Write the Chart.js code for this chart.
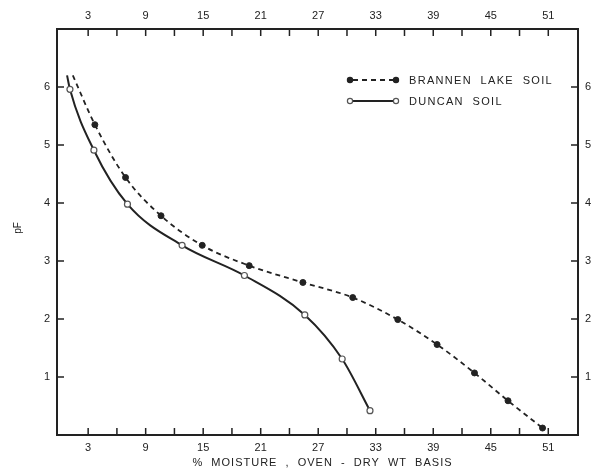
<!DOCTYPE html>
<html>
<head>
<meta charset="utf-8">
<script src="https://cdn.jsdelivr.net/npm/chart.js@4.4.1/dist/chart.umd.min.js"></script>
<style>
  html, body { margin: 0; padding: 0; background: #fff; }
</style>
</head>
<body>
<canvas id="soilChart" width="592" height="468"></canvas>
<script>
// % moisture (oven-dry wt basis) vs pF
// first entry of each series is where the drawn curve starts (no marker)
const brannenMoisture = [1.4, 3.7, 6.9, 10.6, 14.9, 19.8, 25.4, 30.6, 35.3, 39.4, 43.3, 46.8, 50.4];
const brannenPF = [6.2, 5.35, 4.44, 3.78, 3.27, 2.92, 2.63, 2.37, 1.99, 1.56, 1.07, 0.59, 0.12];

const duncanMoisture = [0.8, 1.1, 3.6, 7.1, 12.8, 19.3, 25.6, 29.5, 32.4];
const duncanPF = [6.2, 5.96, 4.91, 3.98, 3.27, 2.75, 2.07, 1.31, 0.42];

const xTicks = [3, 6, 9, 12, 15, 18, 21, 24, 27, 30, 33, 36, 39, 42, 45, 48, 51];
const xLabels = [3, 9, 15, 21, 27, 33, 39, 45, 51];
const yTicks = [1, 2, 3, 4, 5, 6];

const seriesNames = ["BRANNEN LAKE SOIL", "DUNCAN SOIL"];
const xTitle = "% MOISTURE , OVEN - DRY WT BASIS";
const yTitle = "pF";

const ink = "#222";
const font = { family: "'Liberation Sans', Arial, sans-serif", size: 11 };

function toPoints(xs, ys) {
    return xs.map((x, i) => ({ x: x, y: ys[i] }));
}

function noFirst(r) {
    return (ctx) => (ctx.dataIndex === 0 ? 0 : r);
}

function setTicks(values) {
    return (scale) => {
        scale.ticks = values.map((v) => ({ value: v }));
    };
}

const xLabel = (v) => (xLabels.includes(v) ? String(v) : "");

function xScale(position, size) {
    return {
        type: "linear",
        position: position,
        min: -0.25,
        max: 54.1,
        grid: { display: false, drawTicks: false },
        border: { display: true, color: ink, width: 2 },
        ticks: { font: font, color: ink, padding: 6, autoSkip: false, maxRotation: 0, callback: xLabel },
        afterBuildTicks: setTicks(xTicks),
        afterFit: (s) => { s.height = size; },
    };
}

function yScale(position, size) {
    return {
        type: "linear",
        position: position,
        min: 0,
        max: 7,
        grid: { display: false, drawTicks: false },
        border: { display: true, color: ink, width: 2 },
        ticks: { font: font, color: ink, padding: 7, autoSkip: false },
        afterBuildTicks: setTicks(yTicks),
        afterFit: (s) => { s.width = size; },
    };
}

// tick marks pointing into the plot, plus legend and axis titles
const decorations = {
    id: "decorations",
    afterDraw(chart) {
        const ctx = chart.ctx;
        const area = chart.chartArea;
        const len = 7;
        ctx.save();
        ctx.strokeStyle = ink;
        ctx.lineWidth = 1.5;
        ctx.beginPath();
        xTicks.forEach((v) => {
            const px = chart.scales.x.getPixelForValue(v);
            ctx.moveTo(px, area.bottom);
            ctx.lineTo(px, area.bottom - len);
            ctx.moveTo(px, area.top);
            ctx.lineTo(px, area.top + len);
        });
        yTicks.forEach((v) => {
            const py = chart.scales.y.getPixelForValue(v);
            ctx.moveTo(area.left, py);
            ctx.lineTo(area.left + len, py);
            ctx.moveTo(area.right, py);
            ctx.lineTo(area.right - len, py);
        });
        ctx.stroke();

        // legend
        const lx0 = area.left + 293;
        const lx1 = area.left + 339;
        const rows = [area.top + 51, area.top + 72];
        chart.data.datasets.forEach((ds, i) => {
            const y = rows[i];
            ctx.strokeStyle = ds.borderColor;
            ctx.lineWidth = ds.borderWidth;
            ctx.setLineDash(ds.borderDash || []);
            ctx.beginPath();
            ctx.moveTo(lx0 + 3, y);
            ctx.lineTo(lx1 - 3, y);
            ctx.stroke();
            ctx.setLineDash([]);
            [lx0, lx1].forEach((mx) => {
                ctx.beginPath();
                ctx.arc(mx, y, 2.6, 0, Math.PI * 2);
                ctx.fillStyle = ds.pointBackgroundColor;
                ctx.fill();
                ctx.lineWidth = 1.2;
                ctx.strokeStyle = ds.pointBorderColor;
                ctx.stroke();
            });
            ctx.fillStyle = ink;
            ctx.font = "11px 'Liberation Sans', Arial, sans-serif";
            ctx.letterSpacing = "1.3px";
            ctx.textBaseline = "middle";
            ctx.textAlign = "left";
            ctx.fillText(seriesNames[i].replace(/ /g, "  "), lx1 + 13, y + 1);
        });

        // axis titles
        ctx.font = "11px 'Liberation Sans', Arial, sans-serif";
        ctx.letterSpacing = "1px";
        ctx.textAlign = "center";
        ctx.textBaseline = "middle";
        ctx.fillText(xTitle.replace(/ /g, "  "), (area.left + area.right) / 2 + 5, 463);

        ctx.letterSpacing = "0px";
        ctx.font = "10px 'Liberation Sans', Arial, sans-serif";
        ctx.translate(18, 228);
        ctx.rotate(-Math.PI / 2);
        ctx.fillText(yTitle, 0, 0);
        ctx.restore();
    },
};

const soil = document.getElementById("soilChart").getContext("2d");
new Chart(soil, {
    type: "line",
    data: {
        datasets: [
            {
                label: seriesNames[0],
                data: toPoints(brannenMoisture, brannenPF),
                borderColor: ink,
                borderWidth: 1.8,
                borderDash: [5, 4],
                pointRadius: noFirst(3),
                pointBackgroundColor: ink,
                pointBorderColor: ink,
                pointBorderWidth: 1,
                cubicInterpolationMode: "monotone",
            },
            {
                label: seriesNames[1],
                data: toPoints(duncanMoisture, duncanPF),
                borderColor: ink,
                borderWidth: 2,
                pointRadius: noFirst(3),
                pointBackgroundColor: "#fff",
                pointBorderColor: "#555",
                pointBorderWidth: 1.2,
                cubicInterpolationMode: "monotone",
            },
        ],
    },
    options: {
        responsive: false,
        animation: false,
        devicePixelRatio: 1,
        layout: { padding: 0 },
        plugins: {
            legend: { display: false },
            tooltip: { enabled: false },
        },
        scales: {
            x: xScale("bottom", 33),
            x2: xScale("top", 29),
            y: yScale("left", 57),
            y2: yScale("right", 14),
        },
    },
    plugins: [decorations],
});
</script>
</body>
</html>
